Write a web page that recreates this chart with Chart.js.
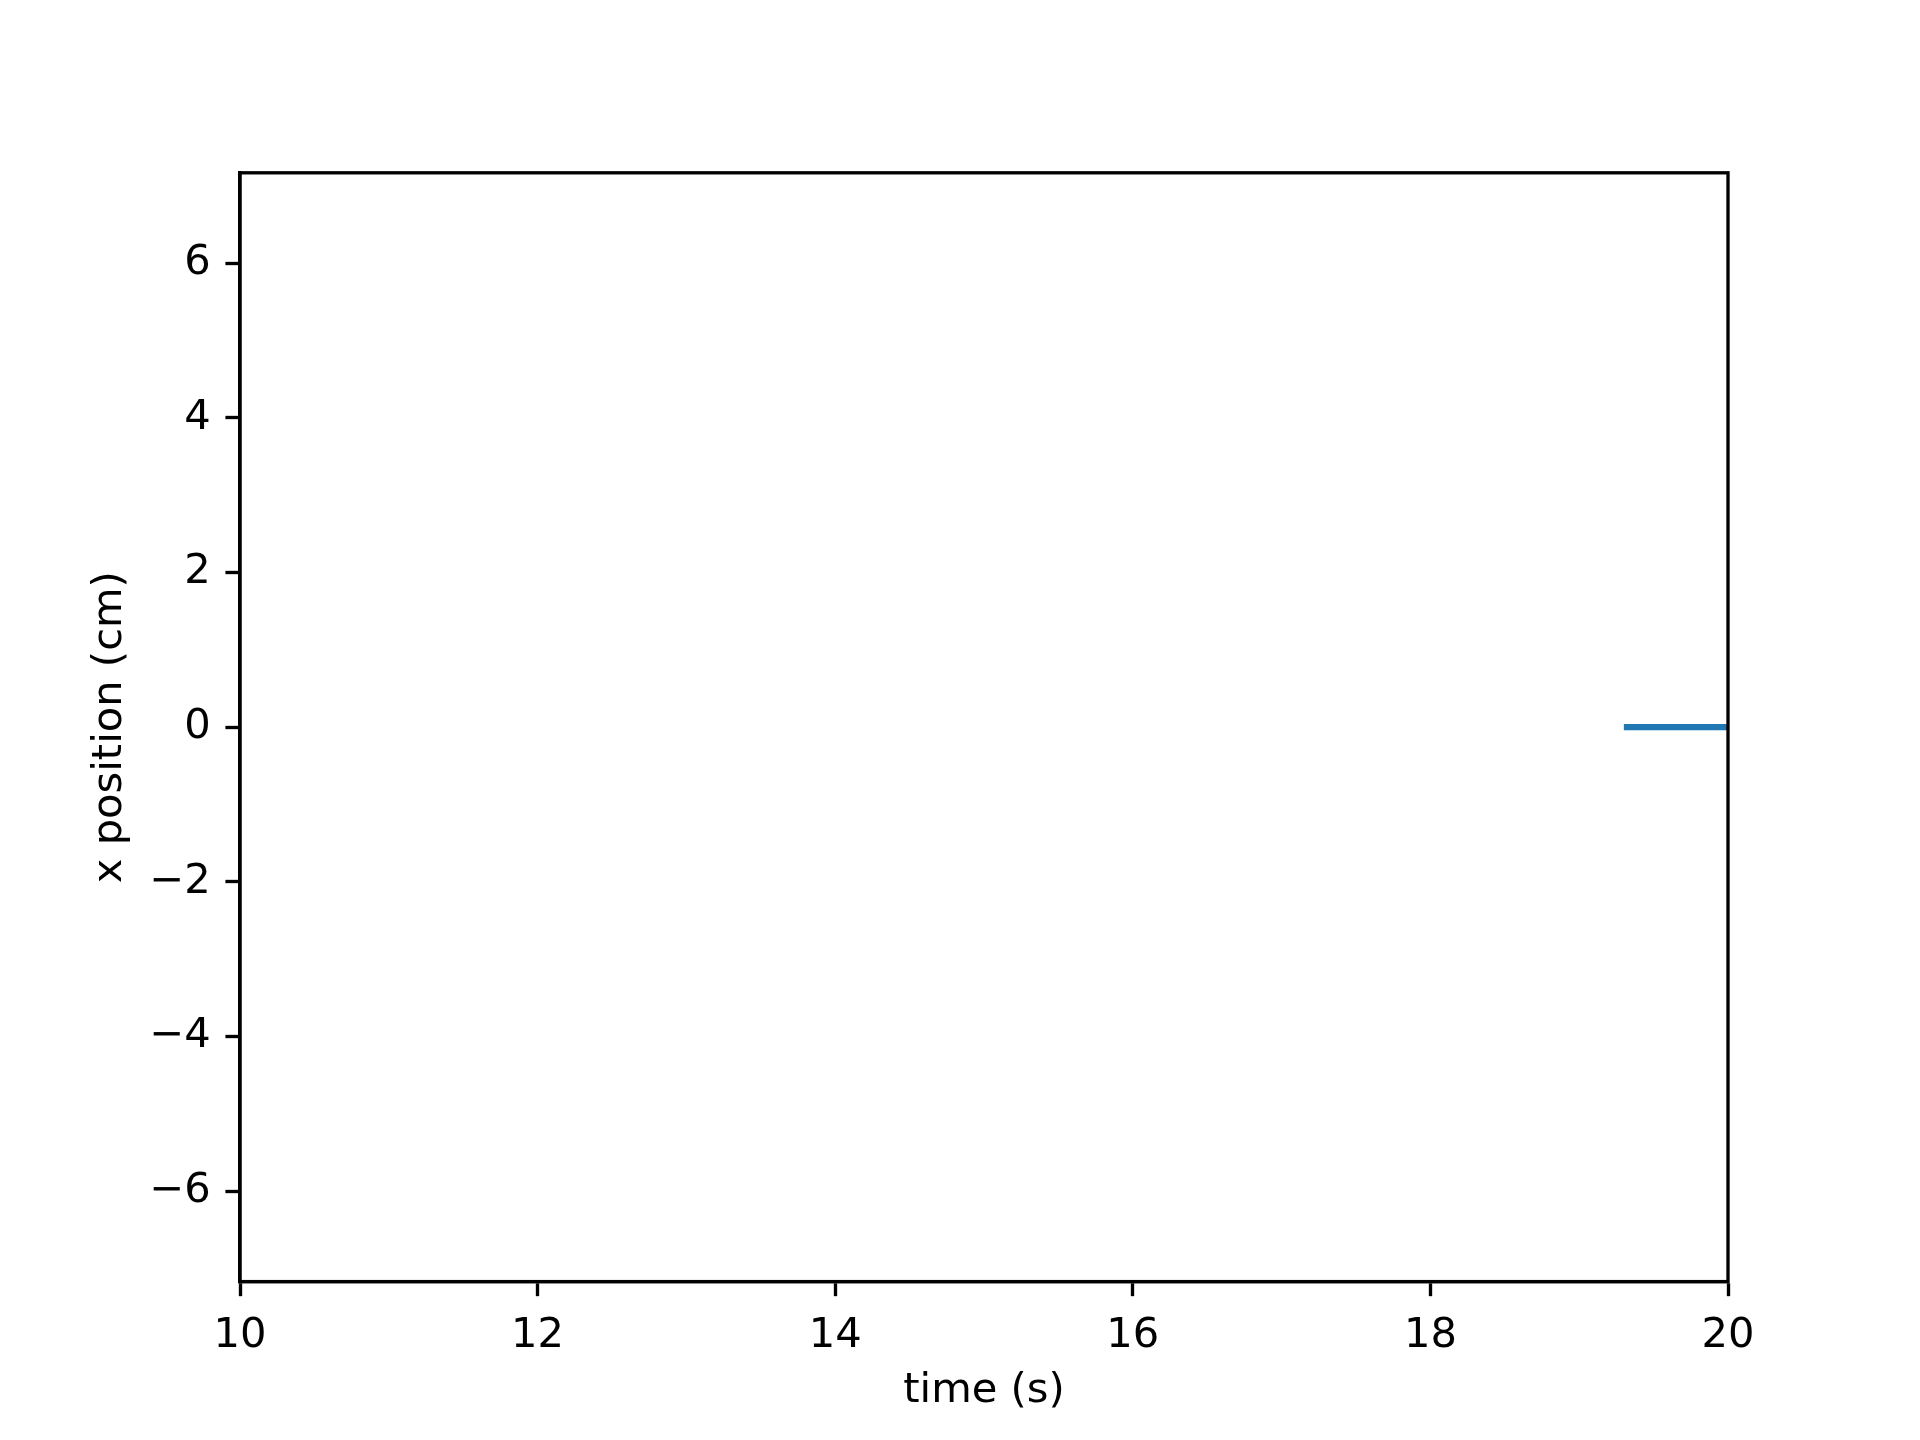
<!DOCTYPE html>
<html>
<head>
<meta charset="utf-8">
<script src="https://cdn.jsdelivr.net/npm/chart.js@4/dist/chart.umd.min.js"></script>
<style>
  html, body { margin: 0; padding: 0; background: #fff; }
  canvas { display: block; }
</style>
</head>
<body>
<canvas id="posChart" width="1920" height="1440"></canvas>
<script>
// данные
const times = [19.3, 20.0];
const xPositions = [0, 0];
const xTicks = [10, 12, 14, 16, 18, 20];
const yTicks = [-6, -4, -2, 0, 2, 4, 6];
const xRange = [10, 20];
const yRange = [-7.17, 7.17];

const PX = 300 / 72; // pt -> px at 300 dpi
const fontSize = 10 * PX;
const axisW = 0.8 * PX;

// рамка вокруг области графика (верх и право)
const frame = {
  id: 'frame',
  afterDraw(chart) {
    const { ctx, chartArea: a } = chart;
    ctx.save();
    ctx.strokeStyle = '#000';
    ctx.lineWidth = axisW;
    ctx.strokeRect(a.left, a.top, a.right - a.left, a.bottom - a.top);
    ctx.restore();
  }
};

const minus = v => String(v).replace('-', '\u2212');

const ctx = document.getElementById('posChart');
const chart = new Chart(ctx, {
  type: 'line',
  data: {
    datasets: [{
      label: 'x',
      data: times.map((t, i) => ({ x: t, y: xPositions[i] })),
      borderColor: '#1f77b4',
      borderWidth: 1.5 * PX,
      pointRadius: 0,
      fill: false,
      tension: 0
    }]
  },
  plugins: [frame],
  options: {
    responsive: false,
    animation: false,
    devicePixelRatio: 1,
    layout: {
      padding: { left: 85, right: 192, top: 172.8, bottom: 24 }
    },
    plugins: {
      legend: { display: false },
      tooltip: { enabled: false }
    },
    scales: {
      x: {
        type: 'linear',
        min: xRange[0],
        max: xRange[1],
        afterBuildTicks: s => { s.ticks = xTicks.map(v => ({ value: v })); },
        afterFit: s => { s.height = 134.4; },
        grid: {
          drawOnChartArea: false,
          drawTicks: true,
          tickLength: 3.5 * PX,
          tickWidth: axisW,
          tickColor: '#000'
        },
        border: { display: true, color: '#000', width: axisW },
        ticks: {
          color: '#000',
          padding: 3.5 * PX,
          maxRotation: 0,
          font: { family: 'DejaVu Sans', size: fontSize, lineHeight: 1.2 },
          callback: v => minus(v)
        },
        title: {
          display: true,
          text: 'time (s)',
          color: '#000',
          padding: 0,
          font: { family: 'DejaVu Sans', size: fontSize, lineHeight: 1.2 }
        }
      },
      y: {
        type: 'linear',
        min: yRange[0],
        max: yRange[1],
        afterBuildTicks: s => { s.ticks = yTicks.map(v => ({ value: v })); },
        afterFit: s => { s.width = 155; },
        grid: {
          drawOnChartArea: false,
          drawTicks: true,
          tickLength: 3.5 * PX,
          tickWidth: axisW,
          tickColor: '#000'
        },
        border: { display: true, color: '#000', width: axisW },
        ticks: {
          color: '#000',
          padding: 3.5 * PX,
          font: { family: 'DejaVu Sans', size: fontSize, lineHeight: 1.2 },
          callback: v => minus(v)
        },
        title: {
          display: true,
          text: 'x position (cm)',
          color: '#000',
          padding: 0,
          font: { family: 'DejaVu Sans', size: fontSize, lineHeight: 1.2 }
        }
      }
    }
  }
});
</script>
</body>
</html>
